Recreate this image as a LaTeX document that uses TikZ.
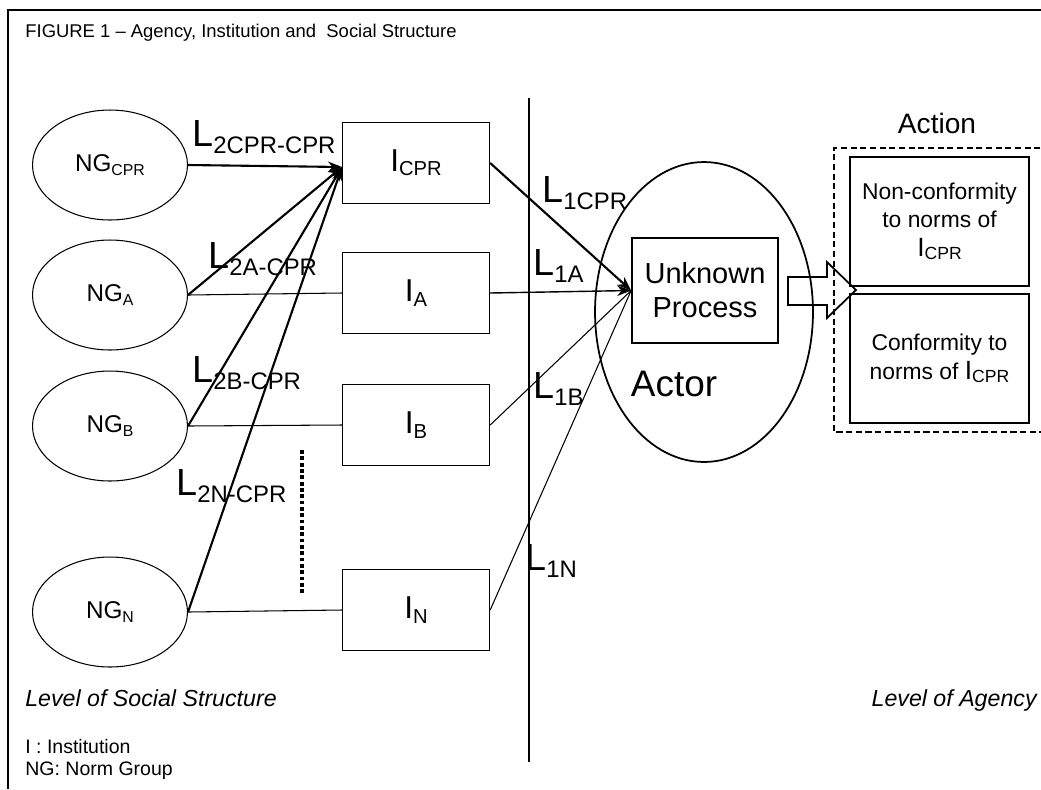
\documentclass[tikz,border=0pt]{standalone}
\usepackage{fontspec}
\setmainfont{Liberation Sans}
\usetikzlibrary{arrows.meta,shapes.geometric}

\newcommand{\Lsub}[1]{{\fontsize{21.5}{22}\selectfont L}\raisebox{-4pt}{\fontsize{13.6}{14}\selectfont #1}}
\newcommand{\Isub}[1]{{\fontsize{18}{18}\selectfont I}\raisebox{-2.5pt}{\fontsize{11.5}{12}\selectfont #1}}
\newcommand{\Ismall}[1]{{\fontsize{15}{15}\selectfont I}\raisebox{-2pt}{\fontsize{10}{10}\selectfont #1}}
\newcommand{\NGsub}[1]{{\fontsize{13.8}{14}\selectfont NG}\raisebox{-2.5pt}{\fontsize{9}{9}\selectfont #1}}

\begin{document}
\begin{tikzpicture}[%
    x=0.02cm, y=-0.02cm,
    normgroup/.style={
      ellipse,
      draw,
      line width=0.6pt,
      minimum width=3.1cm,
      minimum height=2.2cm,
      inner sep=0pt
    },
    inst/.style={
      rectangle,
      draw,
      line width=0.8pt,
      minimum width=2.94cm,
      minimum height=1.62cm
    },
    outcome/.style={
      rectangle,
      draw,
      line width=0.8pt,
      align=center,
      minimum width=3.58cm,
      minimum height=2.58cm,
      font=\fontsize{13}{16}\selectfont
    },
    link/.style={anchor=base west, inner sep=0pt},
    strong/.style={-{Stealth[length=8pt,width=6pt]}, line width=1.2pt},
    weak/.style={line width=0.6pt}
  ]
    \clip (0,0) rectangle (1041,789);
    \draw[line width=1.5pt] (1041,10) -- (8,10) -- (8,789);
    \draw (25,37) node[anchor=base west, inner sep=0pt, font=\fontsize{10.5}{12}\selectfont]
      (title) {FIGURE 1 -- Agency, Institution and \ Social Structure};

    \draw (110,165) node[normgroup] (ngCPR) {\NGsub{CPR}};
    \draw (110,295) node[normgroup] (ngA) {\NGsub{A}};
    \draw (110,426) node[normgroup] (ngB) {\NGsub{B}};
    \draw (110,612) node[normgroup] (ngN) {\NGsub{N}};

    \draw (416,163) node[inst] (iCPR) {\Isub{CPR}};
    \draw (416,293) node[inst] (iA) {\Isub{A}};
    \draw (416,425) node[inst] (iB) {\Isub{B}};
    \draw (416,610) node[inst] (iN) {\Isub{N}};

    \coordinate (cprIn) at (342,167);
    \draw[strong] (ngCPR.east) -- (cprIn);
    \draw[strong] (ngA.east) -- (cprIn);
    \draw[strong] (ngB.east) -- (cprIn);
    \draw[strong] (ngN.east) -- (cprIn);
    \draw[weak] (ngA.east) -- (iA.west);
    \draw[weak] (ngB.east) -- (iB.west);
    \draw[weak] (ngN.east) -- (iN.west);
    \draw[line width=1.8pt, dash pattern=on 2.2pt off 1.4pt] (302,450) -- (302,595);

    \draw[line width=0.8pt] (529,98) -- (529,762);

    \draw (704,312) node[ellipse, draw, line width=1pt, minimum width=4.36cm, minimum height=6cm] (actor) {};
    \draw (705,290.5) node[rectangle, draw, line width=1pt, minimum width=2.92cm, minimum height=2.1cm,
      align=center, font=\fontsize{16.5}{19.3}\selectfont] (proc) {Unknown\\Process};
    \draw (674,384) node[font=\fontsize{21}{22}\selectfont] (actorLbl) {Actor};

    \draw[strong] (iCPR.east) -- (proc.west);
    \draw[-{Stealth[length=8pt,width=6pt]}, line width=0.8pt] (iA.east) -- (proc.west);
    \draw[weak] (iB.east) -- (proc.west);
    \draw[weak] (iN.east) -- (proc.west);

    \draw (192,146) node[link] (l2cpr) {\Lsub{2CPR-CPR}};
    \draw (208,268) node[link] (l2a) {\Lsub{2A-CPR}};
    \draw (192,382) node[link] (l2b) {\Lsub{2B-CPR}};
    \draw (176,495) node[link] (l2n) {\Lsub{2N-CPR}};
    \draw (542,202) node[link] (l1cpr) {\Lsub{1CPR}};
    \draw (533,275) node[link] (l1a) {\Lsub{1A}};
    \draw (533,398) node[link] (l1b) {\Lsub{1B}};
    \draw (525,570) node[link] (l1n) {\Lsub{1N}};

    \draw (937,123) node[font=\fontsize{16}{16}\selectfont] (action) {Action};
    \draw[line width=1.1pt, dash pattern=on 3.5pt off 2pt] (1050,148) -- (834,148) -- (834,432) -- (1050,432);
    \draw (939.5,221.5) node[outcome] (nonconf) {Non-conformity\\to norms of\\\Ismall{CPR}};
    \draw (939.5,358.5) node[outcome] (conf) {Conformity to\\norms of \Ismall{CPR}};

    \draw[line width=1pt] (788,277) -- (827,277) -- (827,262) -- (856,290)
      -- (827,318) -- (827,305) -- (788,305) -- cycle;

    \draw (25,706) node[anchor=base west, inner sep=0pt, font=\itshape\fontsize{13.2}{14}\selectfont]
      (social) {Level of Social Structure};
    \draw (1037,706) node[anchor=base east, inner sep=0pt, font=\itshape\fontsize{13.2}{14}\selectfont]
      (agency) {Level of Agency};
    \draw (25,753) node[anchor=base west, inner sep=0pt, font=\fontsize{11.1}{12}\selectfont]
      (legI) {I : Institution};
    \draw (25,775) node[anchor=base west, inner sep=0pt, font=\fontsize{11.1}{12}\selectfont]
      (legNG) {NG: Norm Group};
  \end{tikzpicture}
\end{document}
